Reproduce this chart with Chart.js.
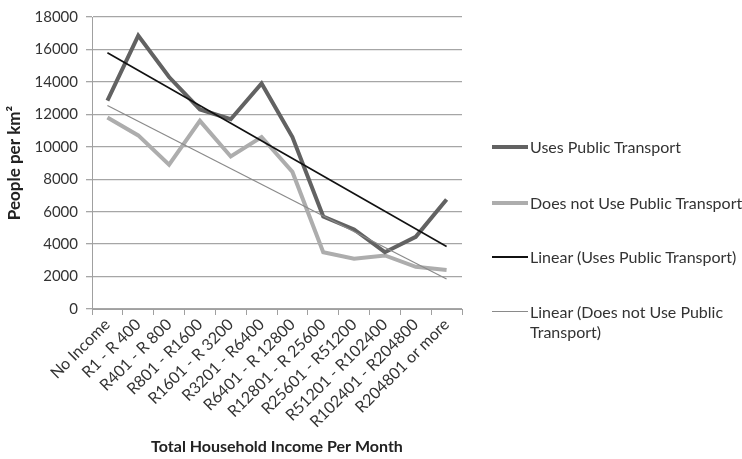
<!DOCTYPE html>
<html>
<head>
<meta charset="utf-8">
<script src="https://cdn.jsdelivr.net/npm/chart.js@4.4.1/dist/chart.umd.min.js"></script>
<style>
  html, body { margin: 0; padding: 0; background: #fff; }
  #wrap { position: relative; width: 742px; height: 459px; }
  #c { position: absolute; left: 0; top: 0; }
  #legend { position: absolute; left: 492px; top: 0; font-family: Lato, "Open Sans", sans-serif; font-size: 16px; color: #333; }
  .item { position: absolute; left: 0; display: flex; align-items: flex-start; white-space: nowrap; }
  .sw { width: 36px; margin-right: 2px; }
  .txt { line-height: 20px; }
</style>
</head>
<body>
<div id="wrap">
  <canvas id="c" width="742" height="459"></canvas>
  <div id="legend"></div>
</div>
<script>
const categories = ["No Income", "R1 - R 400", "R401 - R 800", "R801 - R1600", "R1601 - R 3200", "R3201 - R6400", "R6401 - R 12800", "R12801 - R 25600", "R25601 - R51200", "R51201 - R102400", "R102401 - R204800", "R204801 or more"];
const usesPublic = [12850, 16850, 14300, 12300, 11700, 13900, 10600, 5700, 4900, 3500, 4450, 6750];
const notPublic = [11800, 10700, 8900, 11600, 9400, 10600, 8450, 3500, 3100, 3300, 2600, 2400];
// Trendline end values (first and last category)
const trendUsesEnds = [15800, 3850];
const trendNotEnds = [12550, 1850];
const yTicks = [0, 2000, 4000, 6000, 8000, 10000, 12000, 14000, 16000, 18000];

const seriesNames = ["Uses Public Transport", "Does not Use Public Transport", "Linear (Uses Public Transport)", "Linear (Does not Use Public Transport)"];

function endsToSeries(ends) {
  return categories.map((_, i) => i === 0 ? ends[0] : (i === categories.length - 1 ? ends[1] : null));
}

const FONT = 'Lato, "Open Sans", sans-serif';

const chart = new Chart(document.getElementById('c'), {
  type: 'line',
  data: {
    labels: categories,
    datasets: [
      { label: seriesNames[0], data: usesPublic, borderColor: '#626262', borderWidth: 4, pointRadius: 0, tension: 0, order: 3 },
      { label: seriesNames[1], data: notPublic, borderColor: '#adadad', borderWidth: 4, pointRadius: 0, tension: 0, order: 4 },
      { label: seriesNames[2], data: endsToSeries(trendUsesEnds), borderColor: '#111111', borderWidth: 1.6, pointRadius: 0, spanGaps: true, order: 1 },
      { label: seriesNames[3], data: endsToSeries(trendNotEnds), borderColor: '#8a8a8a', borderWidth: 1.2, pointRadius: 0, spanGaps: true, order: 2 }
    ]
  },
  options: {
    responsive: false,
    animation: false,
    layout: { padding: { left: 4, right: 280, top: 16, bottom: 0 } },
    plugins: { legend: { display: false }, tooltip: { enabled: false } },
    scales: {
      x: {
        offset: true,
        grid: { offset: true, drawOnChartArea: false, drawTicks: true, tickLength: 6, color: '#a0a0a0', lineWidth: 1 },
        border: { color: '#a0a0a0', width: 1 },
        ticks: { autoSkip: false, maxRotation: 45, minRotation: 45, color: '#333', font: { family: FONT, size: 16 }, padding: 0 },
        title: { display: true, text: 'Total Household Income Per Month', color: '#222', font: { family: FONT, size: 16, weight: 'bold' }, padding: { top: 0, bottom: 3 } },
        afterFit: (s) => { s.height = 150; }
      },
      y: {
        min: 0, max: 18000,
        afterBuildTicks: (s) => { s.ticks = yTicks.map(v => ({ value: v })); },
        grid: { color: '#a6a6a6', lineWidth: 1.3, drawTicks: true, tickLength: 6 },
        border: { color: '#a0a0a0', width: 1 },
        ticks: { color: '#333', font: { family: FONT, size: 15 }, padding: 8, callback: (v) => String(v) },
        title: { display: true, text: 'People per km²', color: '#222', font: { family: FONT, size: 17, weight: 'bold' }, padding: { top: 0, bottom: 2 } },
        afterFit: (s) => { s.width = 88; }
      }
    }
  }
});

// HTML legend built from datasets
const legend = document.getElementById('legend');
const tops = [137, 193, 247, 302];
chart.data.datasets.forEach((ds, i) => {
  const item = document.createElement('div');
  item.className = 'item';
  item.style.top = tops[i] + 'px';
  const sw = document.createElement('div');
  sw.className = 'sw';
  sw.style.height = '0';
  sw.style.borderTop = Math.max(1, Math.round(ds.borderWidth)) + 'px solid ' + ds.borderColor;
  sw.style.marginTop = (10 - Math.round(ds.borderWidth / 2)) + 'px';
  const txt = document.createElement('div');
  txt.className = 'txt';
  if (i === 3) {
    txt.innerHTML = 'Linear (Does not Use Public<br>Transport)';
  } else {
    txt.textContent = ds.label;
  }
  item.appendChild(sw);
  item.appendChild(txt);
  legend.appendChild(item);
});
</script>
</body>
</html>
